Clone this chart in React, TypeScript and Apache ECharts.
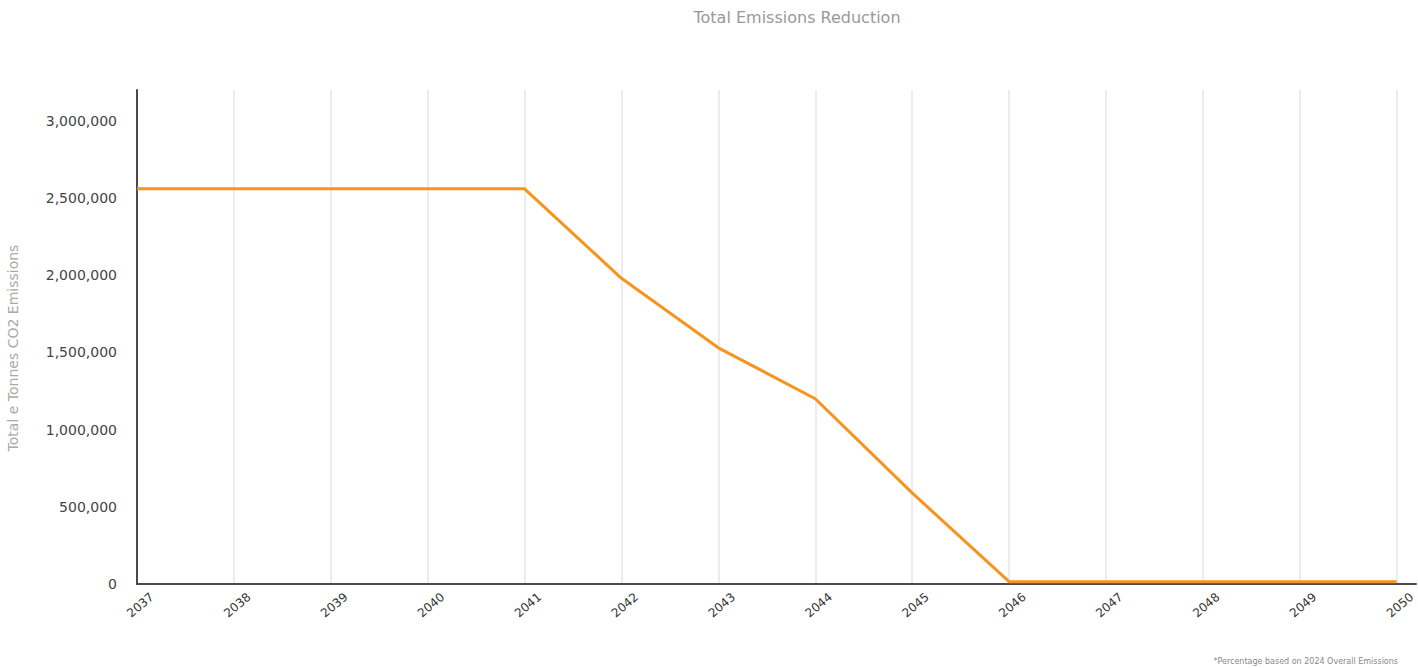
import React, { useEffect, useRef } from "react";
import * as echarts from "echarts";

const years = [2037, 2038, 2039, 2040, 2041, 2042, 2043, 2044, 2045, 2046, 2047, 2048, 2049, 2050];
const emissions = [
  2560000, 2560000, 2560000, 2560000, 2560000, 1980000, 1530000, 1200000, 590000,
  15000, 15000, 15000, 15000, 15000,
];
const yMax = 3200000;
const yStep = 500000;
const titleText = "Total Emissions Reduction";
const yAxisTitle = "Total e Tonnes CO2 Emissions";
const footnote = "*Percentage based on 2024 Overall Emissions";

const FONT = "DejaVu Sans";

export default function App() {
  const ref = useRef<HTMLDivElement>(null);

  useEffect(() => {
    if (!ref.current) return;
    const chart = echarts.init(ref.current, undefined, { renderer: "svg" });
    const points = years.map((y, i) => [y, emissions[i]]);

    chart.setOption({
      animation: false,
      backgroundColor: "#ffffff",
      title: {
        text: titleText,
        left: 797,
        top: 9,
        padding: 0,
        textAlign: "center",
        textStyle: { fontFamily: FONT, fontSize: 16, fontWeight: "normal", color: "#999999" },
      },
      grid: { left: 137, right: 2, top: 90, bottom: 84, containLabel: false, outerBoundsMode: "none" },
      xAxis: {
        type: "value",
        min: years[0],
        max: 2050.2,
        interval: 1,
        axisLine: { show: true, onZero: false, lineStyle: { color: "#4a4a4a", width: 2 } },
        axisTick: { show: false },
        splitLine: {
          show: true,
          showMinLine: false,
          showMaxLine: false,
          lineStyle: { color: "#ececec", width: 2 },
        },
        axisLabel: {
          showMaxLabel: false,
          rotate: 40,
          align: "center",
          verticalAlign: "middle",
          margin: 24,
          padding: [8, 0, 0, 9],
          fontFamily: FONT,
          fontSize: 12,
          color: "#333333",
          formatter: (v: number) => String(v),
        },
      },
      yAxis: {
        type: "value",
        min: 0,
        max: yMax,
        interval: yStep,
        axisLine: { show: true, lineStyle: { color: "#4a4a4a", width: 2 } },
        axisTick: { show: false },
        splitLine: { show: false },
        axisLabel: {
          showMaxLabel: false,
          margin: 20,
          fontFamily: FONT,
          fontSize: 14,
          color: "#444444",
          formatter: (v: number) => v.toLocaleString("en-US"),
        },
      },
      graphic: [
        {
          type: "text",
          x: 13,
          y: 348,
          rotation: Math.PI / 2,
          style: {
            text: yAxisTitle,
            fontFamily: FONT,
            fontSize: 14,
            fill: "#aaaaaa",
            align: "center",
            verticalAlign: "middle",
          },
        },
        {
          type: "text",
          right: 20,
          bottom: 3,
          style: { text: footnote, fontFamily: FONT, fontSize: 8, fill: "#888888" },
        },
      ],
      series: [
        {
          type: "line",
          data: points,
          showSymbol: false,
          symbol: "none",
          lineStyle: { color: "#F7941D", width: 3 },
          z: 3,
        },
      ],
    });

    return () => chart.dispose();
  }, []);

  return (
    <div
      ref={ref}
      style={{ position: "fixed", left: 0, top: 0, width: 1418, height: 668 }}
    />
  );
}
